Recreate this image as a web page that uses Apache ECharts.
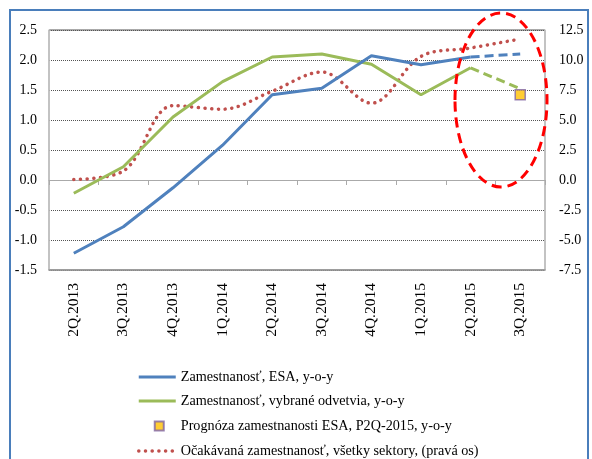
<!DOCTYPE html>
<html>
<head>
<meta charset="utf-8">
<script src="https://cdn.jsdelivr.net/npm/echarts@6/dist/echarts.min.js"></script>
<style>html,body{margin:0;padding:0;background:#fff;}#c{width:592px;height:459px;}</style>
</head>
<body>
<div id="c"></div>
<script>
const categories = ['2Q.2013','3Q.2013','4Q.2013','1Q.2014','2Q.2014','3Q.2014','4Q.2014','1Q.2015','2Q.2015','3Q.2015'];
const esaActual = [-1.22, -0.78, -0.13, 0.58, 1.42, 1.53, 2.07, 1.92, 2.05, null];
const esaForecastTail = [null, null, null, null, null, null, null, null, 2.05, 2.1];
const sectorsActual = [-0.22, 0.22, 1.05, 1.64, 2.05, 2.1, 1.93, 1.42, 1.87, null];
const sectorsForecastTail = [null, null, null, null, null, null, null, null, 1.87, 1.52];
const esaPrognosis = [null, null, null, null, null, null, null, null, null, 1.42];
const expectedEmployment = [0.05, 0.75, 6.2, 5.9, 7.4, 9.0, 6.4, 10.3, 11.0, 11.75];
const leftTicks = {min: -1.5, max: 2.5, interval: 0.5};
const rightTicks = {min: -7.5, max: 12.5, interval: 2.5};
const names = ['Zamestnanosť, ESA, y-o-y','Zamestnanosť, vybrané odvetvia, y-o-y','Prognóza zamestnanosti ESA, P2Q-2015, y-o-y','Očakávaná zamestnanosť, všetky sektory, (pravá os)'];

const FONT = '"Liberation Serif", "Times New Roman", serif';
const chart = echarts.init(document.getElementById('c'), null, {renderer: 'canvas'});
chart.setOption({
  animation: false,
  textStyle: {fontFamily: FONT},
  grid: {left: 49, right: 47, top: 30, bottom: 189, show: true, borderColor: '#555', borderWidth: 1, backgroundColor: 'transparent'},
  xAxis: [
    {type: 'category', data: categories, position: 'bottom', boundaryGap: true,
     axisLine: {onZero: false, lineStyle: {color: '#999', width: 1.5}},
     axisTick: {show: false},
     axisLabel: {rotate: 90, fontSize: 15.5, color: '#000', fontFamily: FONT, margin: 13, interval: 0}},
    {type: 'category', data: categories, position: 'top', boundaryGap: true,
     axisLine: {onZero: true, lineStyle: {color: '#aaa', width: 1}},
     axisTick: {show: true, inside: true, length: 5, interval: 0, lineStyle: {color: '#aaa'}},
     axisLabel: {show: false}}
  ],
  yAxis: [
    {type: 'value', position: 'left', min: leftTicks.min, max: leftTicks.max, interval: leftTicks.interval,
     axisLine: {show: true, lineStyle: {color: '#ccc', width: 1.5}},
     axisTick: {show: false},
     axisLabel: {fontSize: 14, color: '#000', fontFamily: FONT, margin: 12, formatter: v => v.toFixed(1)},
     splitLine: {show: true, lineStyle: {color: '#555', type: [1, 1], width: 1}}},
    {type: 'value', position: 'right', min: rightTicks.min, max: rightTicks.max, interval: rightTicks.interval,
     axisLine: {show: true, lineStyle: {color: '#ccc', width: 1.5}},
     axisTick: {show: false},
     axisLabel: {fontSize: 14, color: '#000', fontFamily: FONT, margin: 14, formatter: v => v.toFixed(1)},
     splitLine: {show: false}}
  ],
  legend: {
    orient: 'vertical', left: 137, top: 370, height: 100, padding: 0, itemGap: 10, itemWidth: 37, itemHeight: 14,
    textStyle: {fontSize: 14.2, lineHeight: 14, color: '#000', fontFamily: FONT},
    data: [
      {name: names[0], itemStyle: {opacity: 0}, lineStyle: {width: 3}},
      {name: names[1], itemStyle: {opacity: 0}, lineStyle: {width: 3}},
      {name: names[2], icon: 'path://M0,0L0,0M37,14L37,14M16,2.5h9v9h-9z'},
      {name: names[3], itemStyle: {opacity: 0}, lineStyle: {width: 3.5}}
    ]
  },
  series: [
    {name: names[0], type: 'line', data: esaActual, yAxisIndex: 0, symbol: 'none', z: 4,
     lineStyle: {color: '#4F81BD', width: 3}, itemStyle: {color: '#4F81BD'}},
    {name: 'esaTail', type: 'line', data: esaForecastTail, yAxisIndex: 0, symbol: 'none', z: 4,
     lineStyle: {color: '#4F81BD', width: 3, type: [9, 5]}, itemStyle: {color: '#4F81BD'}},
    {name: names[1], type: 'line', data: sectorsActual, yAxisIndex: 0, symbol: 'none', z: 3,
     lineStyle: {color: '#9BBB59', width: 3}, itemStyle: {color: '#9BBB59'}},
    {name: 'sectorsTail', type: 'line', data: sectorsForecastTail, yAxisIndex: 0, symbol: 'none', z: 3,
     lineStyle: {color: '#9BBB59', width: 3, type: [9, 5]}, itemStyle: {color: '#9BBB59'}},
    {name: names[2], type: 'scatter', data: esaPrognosis, yAxisIndex: 0, symbol: 'rect', symbolSize: 10, z: 6,
     itemStyle: {color: '#FFC000', borderColor: '#8064A2', borderWidth: 1.5}},
    {name: names[3], type: 'line', data: expectedEmployment, yAxisIndex: 1, symbol: 'none', smooth: 0.35, z: 2,
     lineStyle: {color: '#C0504D', width: 3.5, type: [0.1, 6.6], cap: 'round'}, itemStyle: {color: '#C0504D'}}
  ],
  graphic: [
    {type: 'ellipse', shape: {cx: 501, cy: 100, rx: 46, ry: 87}, z: 100,
     style: {fill: 'none', stroke: '#FF0000', lineWidth: 3, lineDash: [10, 6]}},
    {type: 'rect', shape: {x: 10, y: 10, width: 578, height: 470}, z: 100,
     style: {fill: 'none', stroke: '#4A7EBB', lineWidth: 2}}
  ]
});
</script>
</body>
</html>
